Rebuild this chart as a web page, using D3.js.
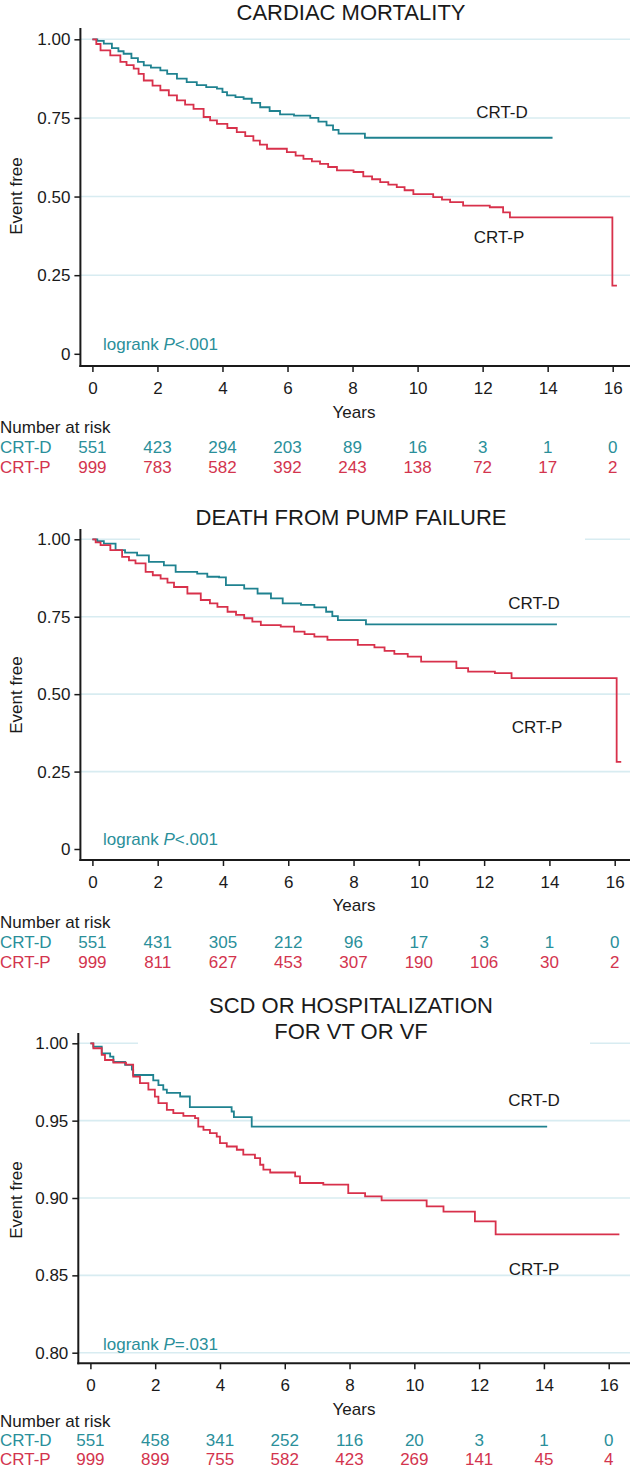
<!DOCTYPE html>
<html>
<head>
<meta charset="utf-8">
<script src="https://cdn.jsdelivr.net/npm/d3@7"></script>
<style>
  html, body { margin: 0; padding: 0; background: #fff; }
  svg { display: block; font-family: "Liberation Sans", Arial, Helvetica, sans-serif; }
</style>
</head>
<body>
<svg id="chart" width="630" height="1470"></svg>
<script>
// ---------- DATA ----------
const groups = ["CRT-D", "CRT-P"];
const xTicks = [0, 2, 4, 6, 8, 10, 12, 14, 16];
const yTicksSurv = [0, 0.25, 0.5, 0.75, 1.0];
const yTickLabelsSurv = ["0", "0.25", "0.50", "0.75", "1.00"];
const yTicksSCD = [0.80, 0.85, 0.90, 0.95, 1.00];
const yTickLabelsSCD = ["0.80", "0.85", "0.90", "0.95", "1.00"];

// Panel 1: cardiac mortality  [years, event-free]
const cardiacD = [[0,1],[0.15,0.995],[0.35,0.986],[0.6,0.972],[0.8,0.962],[0.96,0.954],[1.2,0.94],[1.4,0.928],[1.58,0.917],[1.8,0.91],[2.09,0.901],[2.3,0.89],[2.6,0.875],[2.9,0.864],[3.21,0.854],[3.5,0.848],[3.83,0.843],[4.0,0.832],[4.14,0.822],[4.4,0.816],[4.65,0.811],[4.9,0.798],[5.16,0.784],[5.45,0.772],[5.77,0.761],[6.2,0.757],[6.7,0.75],[6.95,0.738],[7.2,0.726],[7.4,0.712],[7.57,0.70],[8.38,0.687],[14.15,0.687]];
const cardiacP = [[0,1],[0.12,0.985],[0.25,0.965],[0.55,0.949],[0.86,0.928],[1.05,0.918],[1.27,0.907],[1.42,0.89],[1.58,0.869],[1.85,0.853],[2.09,0.838],[2.35,0.822],[2.6,0.806],[2.85,0.792],[3.11,0.779],[3.42,0.753],[3.62,0.742],[3.83,0.731],[4.15,0.718],[4.44,0.705],[4.7,0.692],[4.95,0.678],[5.15,0.665],[5.37,0.652],[5.98,0.641],[6.25,0.63],[6.49,0.62],[6.75,0.612],[7.0,0.604],[7.25,0.594],[7.52,0.583],[8.03,0.578],[8.33,0.564],[8.6,0.555],[8.85,0.546],[9.1,0.538],[9.36,0.53],[9.6,0.52],[9.87,0.508],[10.48,0.498],[10.75,0.49],[11.0,0.482],[11.4,0.471],[12.22,0.466],[12.63,0.45],[12.84,0.434],[15.99,0.217],[16.13,0.217]];
const cardiacRiskD = [551, 423, 294, 203, 89, 16, 3, 1, 0];
const cardiacRiskP = [999, 783, 582, 392, 243, 138, 72, 17, 2];

// Panel 2: death from pump failure
const pumpD = [[0,1],[0.15,0.994],[0.35,0.986],[0.71,0.965],[1.0,0.957],[1.37,0.948],[1.73,0.927],[2.19,0.916],[2.55,0.895],[3.21,0.889],[3.52,0.879],[3.88,0.877],[4.09,0.852],[4.65,0.841],[5.06,0.825],[5.47,0.809],[5.83,0.793],[6.39,0.788],[6.8,0.780],[7.16,0.766],[7.35,0.752],[7.52,0.739],[8.38,0.725],[14.23,0.725]];
const pumpP = [[0,1],[0.1,0.99],[0.25,0.981],[0.55,0.965],[0.91,0.943],[1.12,0.932],[1.32,0.922],[1.63,0.895],[1.85,0.884],[2.09,0.873],[2.3,0.86],[2.5,0.846],[2.91,0.825],[3.32,0.804],[3.6,0.793],[3.83,0.782],[4.14,0.766],[4.4,0.756],[4.65,0.745],[4.9,0.734],[5.16,0.723],[5.77,0.718],[6.18,0.702],[6.5,0.694],[6.8,0.686],[7.2,0.675],[8.13,0.659],[8.64,0.651],[8.95,0.64],[9.25,0.630],[9.66,0.621],[10.07,0.605],[11.15,0.584],[11.51,0.573],[12.33,0.568],[12.84,0.552],[16.06,0.281],[16.2,0.281]];
const pumpRiskD = [551, 431, 305, 212, 96, 17, 3, 1, 0];
const pumpRiskP = [999, 811, 627, 453, 307, 190, 106, 30, 2];

// Panel 3: SCD or hospitalization for VT or VF
const scdD = [[0,1],[0.09,0.9978],[0.35,0.9935],[0.61,0.9914],[0.71,0.988],[1.07,0.986],[1.28,0.983],[1.32,0.9795],[1.94,0.976],[2.10,0.973],[2.25,0.970],[2.36,0.968],[2.77,0.9656],[3.07,0.9587],[4.36,0.9559],[4.43,0.9523],[4.98,0.9462],[14.1,0.9462]];
const scdP = [[0,1],[0.09,0.9968],[0.35,0.9925],[0.45,0.9892],[0.71,0.9875],[1.1,0.9862],[1.32,0.9785],[1.53,0.9742],[1.79,0.970],[1.99,0.9655],[2.10,0.9613],[2.36,0.957],[2.56,0.9548],[2.87,0.9531],[3.23,0.9516],[3.33,0.9462],[3.49,0.9441],[3.69,0.9419],[3.90,0.9397],[4.00,0.9355],[4.21,0.9333],[4.52,0.9312],[4.72,0.928],[5.08,0.9258],[5.24,0.9215],[5.34,0.9183],[5.55,0.9165],[6.32,0.914],[6.47,0.9097],[7.19,0.9086],[7.96,0.9032],[8.48,0.901],[8.99,0.8985],[10.38,0.8946],[10.9,0.8912],[11.87,0.8849],[12.51,0.8765],[16.33,0.8765]];
const scdRiskD = [551, 458, 341, 252, 116, 20, 3, 1, 0];
const scdRiskP = [999, 899, 755, 582, 423, 269, 141, 45, 4];

// ---------- STYLE ----------
const TEAL_LINE = "#1f8290", TEAL_TEXT = "#2a8f9a";
const RED_LINE = "#d8314b", RED_TEXT = "#d3344e";
const GRID = "#d8ecf1";
const INK = "#1a1a1a";

const svg = d3.select("#chart");

function drawPanel(cfg) {
  const g = svg.append("g");
  const x = d3.scaleLinear().domain([0, 16]).range([cfg.x0, cfg.x16]);
  const y = d3.scaleLinear().domain(cfg.yDomain).range([cfg.yBottom, cfg.yTop]);

  // gridlines
  g.append("g").selectAll("line")
    .data(cfg.yTicks.filter(v => cfg.gridAtMin || v !== cfg.yDomain[0]))
    .join("line")
    .attr("x1", cfg.axisX).attr("x2", 630)
    .attr("y1", d => y(d)).attr("y2", d => y(d))
    .attr("stroke", GRID).attr("stroke-width", 1.6);

  // title background (covers part of the top gridline as in the reference)
  if (cfg.titleMask) {
    g.append("rect")
      .attr("x", cfg.titleMask[0]).attr("width", cfg.titleMask[1] - cfg.titleMask[0])
      .attr("y", cfg.titleY - 30).attr("height", y(cfg.yDomain[1]) - (cfg.titleY - 30) + 2)
      .attr("fill", "#fff");
  }

  // titles
  cfg.title.forEach((t, i) => {
    g.append("text").attr("x", 351).attr("y", cfg.titleY + i * 26)
      .attr("text-anchor", "middle").attr("font-size", 22).attr("fill", INK).text(t);
  });

  // axes
  const yAxis = d3.axisLeft(y).tickValues(cfg.yTicks)
    .tickFormat((d, i) => cfg.yLabels[i]).tickSize(6).tickPadding(4);
  const ya = g.append("g").attr("transform", `translate(${cfg.axisX},0)`).call(yAxis);
  ya.select(".domain").remove();
  ya.selectAll(".tick line").attr("stroke", INK).attr("stroke-width", 1.5);
  ya.selectAll(".tick text").attr("font-size", 17).attr("fill", INK)
    .attr("font-family", "Liberation Sans, Arial, sans-serif");

  const xAxis = d3.axisBottom(x).tickValues(xTicks).tickSize(6).tickPadding(10);
  const xa = g.append("g").attr("transform", `translate(0,${cfg.axisY})`).call(xAxis);
  xa.select(".domain").remove();
  xa.selectAll(".tick line").attr("stroke", INK).attr("stroke-width", 1.5);
  xa.selectAll(".tick text").attr("font-size", 17).attr("fill", INK)
    .attr("font-family", "Liberation Sans, Arial, sans-serif");

  g.append("line").attr("x1", cfg.axisX).attr("x2", cfg.axisX)
    .attr("y1", cfg.axisTop).attr("y2", cfg.axisY + 1)
    .attr("stroke", INK).attr("stroke-width", 2);
  g.append("line").attr("x1", cfg.axisX - 1).attr("x2", 630)
    .attr("y1", cfg.axisY).attr("y2", cfg.axisY)
    .attr("stroke", INK).attr("stroke-width", 2);

  // curves
  const line = d3.line().x(d => x(d[0])).y(d => y(d[1])).curve(d3.curveStepAfter);
  g.append("path").datum(cfg.dataD).attr("d", line)
    .attr("fill", "none").attr("stroke", TEAL_LINE).attr("stroke-width", 1.8);
  g.append("path").datum(cfg.dataP).attr("d", line)
    .attr("fill", "none").attr("stroke", RED_LINE).attr("stroke-width", 1.8);

  // curve labels
  g.append("text").attr("x", cfg.labD[0]).attr("y", cfg.labD[1]).attr("text-anchor", "middle")
    .attr("font-size", 17).attr("fill", INK).text(groups[0]);
  g.append("text").attr("x", cfg.labP[0]).attr("y", cfg.labP[1]).attr("text-anchor", "middle")
    .attr("font-size", 17).attr("fill", INK).text(groups[1]);

  // logrank
  const lr = g.append("text").attr("x", 103).attr("y", cfg.logrankY)
    .attr("font-size", 17).attr("fill", TEAL_TEXT);
  lr.append("tspan").text("logrank ");
  lr.append("tspan").attr("font-style", "italic").text("P");
  lr.append("tspan").text(cfg.pText);

  // y label
  g.append("text")
    .attr("transform", `translate(22,${cfg.yLabelCenter}) rotate(-90)`)
    .attr("text-anchor", "middle").attr("font-size", 17).attr("fill", INK).text("Event free");

  // x label
  g.append("text").attr("x", 354).attr("y", cfg.yearsY).attr("text-anchor", "middle")
    .attr("font-size", 17).attr("fill", INK).text("Years");

  // number at risk
  g.append("text").attr("x", 0).attr("y", cfg.narY).attr("font-size", 17).attr("fill", INK)
    .text("Number at risk");
  const rows = [
    { name: groups[0], vals: cfg.riskD, col: TEAL_TEXT, yy: cfg.narY + cfg.rowGap },
    { name: groups[1], vals: cfg.riskP, col: RED_TEXT, yy: cfg.narY + 2 * cfg.rowGap }
  ];
  rows.forEach(r => {
    g.append("text").attr("x", 0).attr("y", r.yy).attr("font-size", 17).attr("fill", r.col).text(r.name);
    g.append("g").selectAll("text").data(r.vals).join("text")
      .attr("x", (d, i) => x(xTicks[i])).attr("y", r.yy)
      .attr("text-anchor", "middle").attr("font-size", 17).attr("fill", r.col)
      .text(d => d);
  });
}

drawPanel({
  title: ["CARDIAC MORTALITY"], titleY: 20, titleMask: null,
  yDomain: [0, 1], yTicks: yTicksSurv, yLabels: yTickLabelsSurv, gridAtMin: false,
  yTop: 39.3, yBottom: 353.8, axisY: 366, axisTop: 28, axisX: 80.4, x0: 92.4, x16: 612.7,
  dataD: cardiacD, dataP: cardiacP, labD: [502, 118], labP: [499, 243],
  logrankY: 350, pText: "<.001", yLabelCenter: 196, yearsY: 418, narY: 433, rowGap: 20,
  riskD: cardiacRiskD, riskP: cardiacRiskP
});

drawPanel({
  title: ["DEATH FROM PUMP FAILURE"], titleY: 525, titleMask: [140, 585],
  yDomain: [0, 1], yTicks: yTicksSurv, yLabels: yTickLabelsSurv, gridAtMin: false,
  yTop: 539.3, yBottom: 849, axisY: 860, axisTop: 529, axisX: 80.4, x0: 92.4, x16: 614.7,
  dataD: pumpD, dataP: pumpP, labD: [534, 609], labP: [537, 733],
  logrankY: 845, pText: "<.001", yLabelCenter: 695, yearsY: 911, narY: 928, rowGap: 20,
  riskD: pumpRiskD, riskP: pumpRiskP
});

drawPanel({
  title: ["SCD OR HOSPITALIZATION", "FOR VT OR VF"], titleY: 1013, titleMask: [138, 590],
  yDomain: [0.8, 1], yTicks: yTicksSCD, yLabels: yTickLabelsSCD, gridAtMin: true,
  yTop: 1043.3, yBottom: 1352.7, axisY: 1363.3, axisTop: 1033, axisX: 78.3, x0: 90.4, x16: 608.7,
  dataD: scdD, dataP: scdP, labD: [534, 1106], labP: [534, 1275],
  logrankY: 1350, pText: "=.031", yLabelCenter: 1200, yearsY: 1415, narY: 1427, rowGap: 19,
  riskD: scdRiskD, riskP: scdRiskP
});
</script>
</body>
</html>
